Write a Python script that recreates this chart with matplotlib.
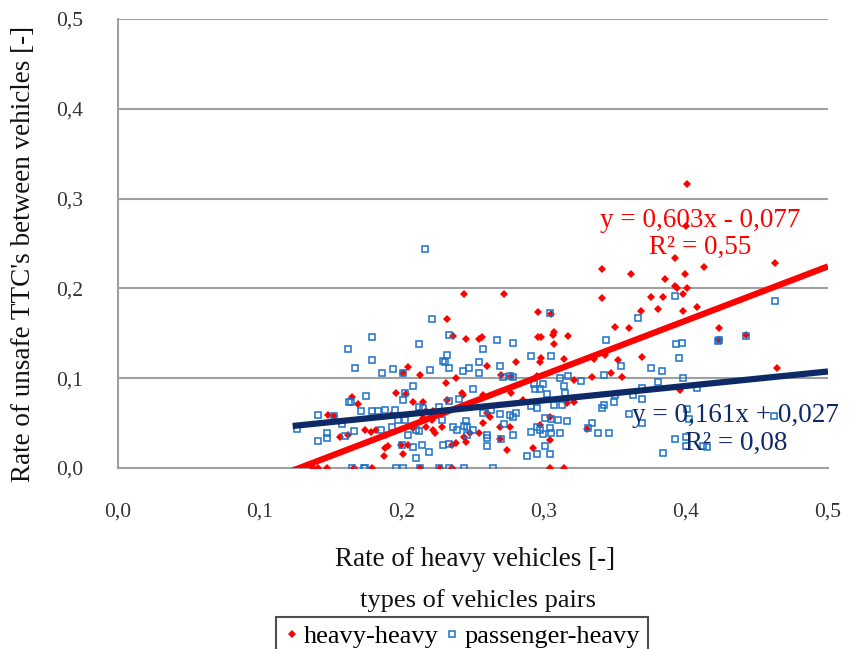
import matplotlib
matplotlib.use("Agg")
import matplotlib.pyplot as plt
from matplotlib.lines import Line2D

plt.rcParams['font.family'] = ['Liberation Serif', 'DejaVu Serif']

# heavy-heavy pairs (red points)
hh_x = [0.137, 0.141, 0.147, 0.148, 0.152, 0.156, 0.162, 0.165, 0.166, 0.169,
        0.174, 0.178, 0.179, 0.182, 0.187, 0.188, 0.189, 0.190, 0.192, 0.196,
        0.199, 0.201, 0.201, 0.203, 0.204, 0.204, 0.208, 0.208, 0.213, 0.213,
        0.215, 0.215, 0.217, 0.217, 0.221, 0.222, 0.222, 0.223, 0.227, 0.228,
        0.231, 0.231, 0.232, 0.232, 0.235, 0.235, 0.236, 0.238, 0.238, 0.242,
        0.243, 0.244, 0.244, 0.245, 0.245, 0.248, 0.254, 0.254, 0.256, 0.257,
        0.257, 0.260, 0.260, 0.262, 0.269, 0.269, 0.270, 0.272, 0.274, 0.276,
        0.277, 0.277, 0.280, 0.285, 0.292, 0.295, 0.296, 0.296, 0.297, 0.297,
        0.298, 0.298, 0.304, 0.304, 0.304, 0.305, 0.306, 0.307, 0.307, 0.314,
        0.314, 0.316, 0.317, 0.321, 0.321, 0.330, 0.334, 0.335, 0.341, 0.341,
        0.343, 0.347, 0.350, 0.352, 0.355, 0.360, 0.361, 0.368, 0.369, 0.375,
        0.380, 0.384, 0.385, 0.392, 0.392, 0.394, 0.396, 0.398, 0.398, 0.399,
        0.400, 0.401, 0.401, 0.408, 0.413, 0.423, 0.423, 0.442, 0.463, 0.464]
hh_y = [0.000, 0.000, 0.000, 0.059, 0.058, 0.034, 0.037, 0.079, 0.000, 0.071,
        0.042, 0.040, 0.000, 0.042, 0.013, 0.022, 0.037, 0.024, 0.059, 0.084,
        0.026, 0.016, 0.106, 0.082, 0.112, 0.026, 0.074, 0.044, 0.104, 0.000,
        0.074, 0.056, 0.063, 0.046, 0.053, 0.042, 0.063, 0.039, 0.000, 0.046,
        0.063, 0.095, 0.076, 0.166, 0.026, 0.000, 0.147, 0.100, 0.028, 0.083,
        0.081, 0.035, 0.194, 0.144, 0.029, 0.039, 0.039, 0.144, 0.146, 0.081,
        0.050, 0.114, 0.061, 0.057, 0.046, 0.032, 0.104, 0.194, 0.020, 0.046,
        0.102, 0.084, 0.118, 0.076, 0.022, 0.102, 0.146, 0.174, 0.118, 0.048,
        0.146, 0.122, 0.057, 0.031, 0.000, 0.172, 0.148, 0.151, 0.138, 0.121,
        0.000, 0.072, 0.147, 0.098, 0.073, 0.043, 0.101, 0.121, 0.189, 0.222,
        0.126, 0.106, 0.157, 0.120, 0.101, 0.156, 0.216, 0.175, 0.124, 0.190,
        0.177, 0.190, 0.210, 0.203, 0.234, 0.200, 0.087, 0.194, 0.175, 0.216,
        0.269, 0.316, 0.200, 0.179, 0.224, 0.156, 0.142, 0.148, 0.228, 0.111]

# passenger-heavy pairs (blue squares)
ph_x = [0.126, 0.141, 0.141, 0.147, 0.147, 0.152, 0.158, 0.160, 0.162, 0.163,
        0.164, 0.166, 0.165, 0.167, 0.171, 0.173, 0.174, 0.175, 0.179, 0.179,
        0.179, 0.183, 0.185, 0.186, 0.188, 0.193, 0.194, 0.195, 0.196, 0.197,
        0.200, 0.201, 0.201, 0.201, 0.202, 0.202, 0.204, 0.208, 0.208, 0.210,
        0.210, 0.212, 0.212, 0.212, 0.213, 0.214, 0.215, 0.216, 0.219, 0.220,
        0.221, 0.226, 0.226, 0.228, 0.229, 0.229, 0.230, 0.232, 0.233, 0.233,
        0.233, 0.233, 0.233, 0.236, 0.239, 0.240, 0.243, 0.244, 0.246, 0.246,
        0.247, 0.244, 0.245, 0.250, 0.250, 0.254, 0.254, 0.257, 0.257, 0.260,
        0.260, 0.260, 0.263, 0.264, 0.267, 0.269, 0.269, 0.270, 0.271, 0.272,
        0.276, 0.276, 0.278, 0.278, 0.278, 0.278, 0.280, 0.288, 0.291, 0.291,
        0.291, 0.293, 0.294, 0.295, 0.295, 0.295, 0.297, 0.297, 0.299, 0.299,
        0.301, 0.301, 0.302, 0.304, 0.304, 0.304, 0.305, 0.305, 0.305, 0.307,
        0.310, 0.311, 0.311, 0.313, 0.314, 0.315, 0.316, 0.317, 0.326, 0.331,
        0.334, 0.338, 0.341, 0.342, 0.342, 0.344, 0.346, 0.349, 0.350, 0.354,
        0.360, 0.363, 0.366, 0.369, 0.369, 0.369, 0.375, 0.380, 0.383, 0.384,
        0.392, 0.392, 0.393, 0.395, 0.397, 0.398, 0.400, 0.400, 0.401, 0.402,
        0.408, 0.412, 0.415, 0.423, 0.4225, 0.442, 0.462, 0.463]
ph_y = [0.043, 0.059, 0.030, 0.039, 0.033, 0.058, 0.049, 0.036, 0.133, 0.073,
        0.074, 0.041, 0.000, 0.111, 0.063, 0.000, 0.000, 0.080, 0.146, 0.063,
        0.120, 0.063, 0.042, 0.106, 0.065, 0.046, 0.110, 0.065, 0.000, 0.054,
        0.026, 0.000, 0.106, 0.076, 0.054, 0.083, 0.037, 0.091, 0.023, 0.042,
        0.011, 0.068, 0.041, 0.138, 0.000, 0.026, 0.067, 0.244, 0.018, 0.109,
        0.166, 0.068, 0.000, 0.054, 0.026, 0.119, 0.118, 0.126, 0.148, 0.111,
        0.027, 0.000, 0.075, 0.046, 0.042, 0.077, 0.108, 0.000, 0.046, 0.037,
        0.111, 0.047, 0.052, 0.042, 0.088, 0.106, 0.118, 0.132, 0.061, 0.037,
        0.033, 0.025, 0.065, 0.000, 0.143, 0.114, 0.060, 0.032, 0.101, 0.049,
        0.103, 0.059, 0.139, 0.101, 0.057, 0.037, 0.061, 0.013, 0.125, 0.069,
        0.040, 0.093, 0.088, 0.067, 0.046, 0.016, 0.088, 0.042, 0.093, 0.038,
        0.056, 0.025, 0.082, 0.173, 0.044, 0.016, 0.125, 0.055, 0.039, 0.070,
        0.054, 0.100, 0.039, 0.070, 0.091, 0.083, 0.052, 0.103, 0.097, 0.044,
        0.050, 0.039, 0.067, 0.104, 0.070, 0.142, 0.039, 0.073, 0.081, 0.114,
        0.060, 0.081, 0.167, 0.089, 0.077, 0.050, 0.111, 0.096, 0.108, 0.017,
        0.192, 0.032, 0.138, 0.123, 0.139, 0.100, 0.035, 0.024, 0.066, 0.055,
        0.089, 0.025, 0.023, 0.142, 0.141, 0.147, 0.058, 0.186]

# linear trendlines as printed on the chart (slope, intercept)
hh_fit = (0.603, -0.077)
ph_fit = (0.161, 0.027)
trend_x = [0.123, 0.5]
hh_label = "y = 0,603x - 0,077\nR² = 0,55"
ph_label = "y = 0,161x + 0,027\nR² = 0,08"

ticks = [0.0, 0.1, 0.2, 0.3, 0.4, 0.5]
tick_labels = [f"{t:.1f}".replace(".", ",") for t in ticks]

red = "#FF0000"
blue = "#1B72C6"
navy = "#0D2A66"
grid_gray = "#A0A0A0"

fig = plt.figure(figsize=(8.49, 6.49), dpi=100)
ax = fig.add_axes([118 / 849, 1 - 468 / 649, 710 / 849, 449 / 649])

ax.plot(hh_x, hh_y, linestyle="none", marker="D", markersize=3.8,
        color=red, markeredgewidth=0, zorder=3)
ax.plot(ph_x, ph_y, linestyle="none", marker="s", markersize=4.4,
        markerfacecolor="none", markeredgecolor=blue, markeredgewidth=1.1, zorder=3)

hh_line = [hh_fit[0] * x + hh_fit[1] for x in trend_x]
ph_line = [ph_fit[0] * x + ph_fit[1] for x in trend_x]
ax.plot(trend_x, hh_line, color=red, lw=4.5, solid_capstyle="butt", zorder=4)
ax.plot(trend_x, ph_line, color=navy, lw=4.5, solid_capstyle="butt", zorder=5)

ax.set_xlim(0, 0.5)
ax.set_ylim(0, 0.5)
ax.set_xticks(ticks)
ax.set_xticklabels(tick_labels)
ax.set_yticks(ticks)
ax.set_yticklabels(tick_labels)
ax.tick_params(axis="both", length=0, labelsize=15.5, colors="#333333")
ax.tick_params(axis="x", pad=25)
ax.tick_params(axis="y", pad=25)

ax.grid(axis="y", color=grid_gray, lw=1.5)
ax.set_axisbelow(True)
for side in ["top", "right"]:
    ax.spines[side].set_visible(False)
ax.spines["left"].set_color(grid_gray)
ax.spines["left"].set_linewidth(1.5)
ax.spines["bottom"].set_color(grid_gray)
ax.spines["bottom"].set_linewidth(1.5)

ax.text(0.41, 0.2606, hh_label, color=red, fontsize=19.5, ha="center", va="center",
        linespacing=1.15, zorder=6)
ax.text(0.435, 0.0429, ph_label, color=navy, fontsize=19.5, ha="center", va="center",
        linespacing=1.15, zorder=6, clip_on=False)

fig.text(475 / 849, 1 - 560 / 649, "Rate of heavy vehicles [-]", fontsize=19.5,
         ha="center", va="center", color="#111111")
fig.text(24 / 849, 1 - 254 / 649, "Rate of unsafe TTC's between vehicles [-]", fontsize=19.5,
         rotation=90, ha="center", va="center", color="#111111")
fig.text(478 / 849, 1 - 601 / 649, "types of vehicles pairs", fontsize=19,
         ha="center", va="center", color="#111111")

handles = [
    Line2D([], [], linestyle="none", marker="D", markersize=3.8, color=red, markeredgewidth=0),
    Line2D([], [], linestyle="none", marker="s", markersize=4.4, markerfacecolor="none",
           markeredgecolor=blue, markeredgewidth=1.1),
]
leg = fig.legend(handles, ["heavy-heavy", "passenger-heavy"], ncol=2,
                 loc="upper center", bbox_to_anchor=(462 / 849, 1 - 617 / 649),
                 frameon=True, fancybox=False, edgecolor="#222222", fontsize=19,
                 handlelength=0.6, handletextpad=0.15, columnspacing=0.2,
                 borderpad=0.3, borderaxespad=0)
leg.get_frame().set_linewidth(1.5)

fig.savefig("out.png", dpi=100)
